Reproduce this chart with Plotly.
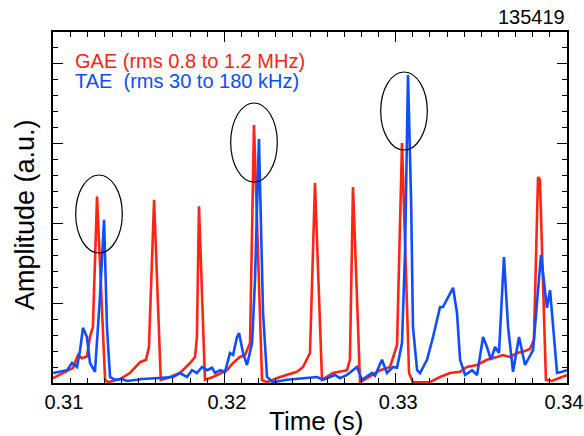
import plotly.graph_objects as go

# ---- data ----
gae_time = [0.31000, 0.31117, 0.31146, 0.31169, 0.31198, 0.31216, 0.31233, 0.31257, 0.31304, 0.31321,
            0.31391, 0.31449, 0.31508, 0.31543, 0.31560, 0.31590, 0.31629, 0.31665, 0.31741, 0.31800,
            0.31829, 0.31840, 0.31852, 0.31887, 0.31934, 0.32016, 0.32051, 0.32091, 0.32121, 0.32150,
            0.32173, 0.32220, 0.32249, 0.32325, 0.32424, 0.32459, 0.32500, 0.32529, 0.32570, 0.32634,
            0.32716, 0.32733, 0.32751, 0.32792, 0.32833, 0.32909, 0.32967, 0.32996, 0.33008, 0.33037,
            0.33078, 0.33101, 0.33200, 0.33259, 0.33317, 0.33376, 0.33416, 0.33475, 0.33533, 0.33591,
            0.33626, 0.33667, 0.33708, 0.33743, 0.33784, 0.33807, 0.33831, 0.33842, 0.33877, 0.33912,
            0.33959, 0.34000]
gae_amp = [0.06, 0.19, 0.35, 0.31, 0.33, 0.58, 0.70, 2.33, 0.04, 0.01,
           0.05, 0.125, 0.26, 0.29, 0.45, 2.29, 0.04, 0.06, 0.125, 0.25,
           0.325, 0.575, 2.21, 0.04, 0.075, 0.16, 0.25, 0.325, 0.35, 0.50,
           3.225, 0.04, 0.01, 0.075, 0.14, 0.20, 0.375, 2.50, 0.04, 0.125,
           0.16, 0.29, 2.45, 0.01, 0.06, 0.16, 0.20, 0.41, 0.475, 3.00,
           0.125, 0.01, 0.01, 0.075, 0.125, 0.14, 0.20, 0.225, 0.29, 0.325,
           0.35, 0.325, 0.375, 0.39, 0.425, 0.54, 2.575, 2.54, 0.04, 0.025,
           0.06, 0.10]

tae_time = [0.31000, 0.31041, 0.31082, 0.31111, 0.31140, 0.31158, 0.31175, 0.31198, 0.31216, 0.31245,
            0.31274, 0.31298, 0.31315, 0.31333, 0.31362, 0.31403, 0.31432, 0.31490, 0.31519, 0.31595,
            0.31700, 0.31741, 0.31782, 0.31811, 0.31840, 0.31870, 0.31899, 0.31928, 0.31946, 0.31975,
            0.32004, 0.32033, 0.32051, 0.32074, 0.32086, 0.32109, 0.32132, 0.32162, 0.32179, 0.32202,
            0.32226, 0.32249, 0.32284, 0.32366, 0.32424, 0.32500, 0.32541, 0.32576, 0.32617, 0.32646,
            0.32675, 0.32716, 0.32774, 0.32803, 0.32862, 0.32879, 0.32920, 0.32949, 0.32984, 0.33008,
            0.33037, 0.33055, 0.33072, 0.33090, 0.33101, 0.33125, 0.33142, 0.33183, 0.33218, 0.33259,
            0.33276, 0.33305, 0.33335, 0.33358, 0.33376, 0.33405, 0.33446, 0.33475, 0.33510, 0.33533,
            0.33556, 0.33580, 0.33603, 0.33632, 0.33656, 0.33685, 0.33720, 0.33755, 0.33802, 0.33848,
            0.33883, 0.33901, 0.33918, 0.33942, 0.33971, 0.34000]
tae_amp = [0.125, 0.14, 0.16, 0.25, 0.20, 0.41, 0.69, 0.575, 0.25, 0.14,
           1.075, 2.04, 0.70, 0.075, 0.04, 0.05, 0.025, 0.04, 0.05, 0.06,
           0.075, 0.125, 0.075, 0.16, 0.125, 0.20, 0.16, 0.19, 0.125, 0.16,
           0.14, 0.375, 0.35, 0.575, 0.625, 0.375, 0.225, 0.50, 1.29, 3.05,
           0.875, 0.075, 0.01, 0.04, 0.05, 0.06, 0.075, 0.04, 0.075, 0.10,
           0.06, 0.10, 0.20, 0.04, 0.125, 0.09, 0.29, 0.125, 0.20, 0.19,
           0.50, 1.66, 3.85, 2.29, 0.70, 0.16, 0.125, 0.29, 0.575, 0.95,
           0.95, 1.06, 1.19, 0.875, 0.29, 0.10, 0.16, 0.10, 0.575, 0.45,
           0.29, 0.45, 0.375, 1.575, 0.70, 0.14, 0.575, 0.225, 0.41, 1.60,
           0.94, 1.16, 0.70, 0.125, 0.14, 0.16]

x_ticks = [0.31, 0.32, 0.33, 0.34]
x_tick_labels = ["0.31", "0.32", "0.33", "0.34"]

gae_label = "GAE (rms 0.8 to 1.2 MHz)"
tae_label = "TAE  (rms 30 to 180 kHz)"
shot_label = "135419"

RED = "#ff2414"
BLUE = "#0f4dff"
FONT = "Liberation Sans, Arial, Helvetica, sans-serif"
NB = "\u00a0"

# tick labels nudged as in the reference (leading non-breaking spaces push them right)
label_pad = [5, 2, 2, 0]
tick_text_padded = [NB * n + t for n, t in zip(label_pad, x_tick_labels)]

fig = go.Figure()
fig.add_trace(go.Scatter(x=gae_time, y=gae_amp, mode="lines",
                         line=dict(color=RED, width=2.6), showlegend=False))
fig.add_trace(go.Scatter(x=tae_time, y=tae_amp, mode="lines",
                         line=dict(color=BLUE, width=2.6), showlegend=False))

# ellipses highlighting GAE/TAE pairs
for (x0, x1, y0, y1) in [(0.311325, 0.314045, 1.625, 2.60),
                         (0.320372, 0.323090, 2.5125, 3.50),
                         (0.329127, 0.331847, 2.9125, 3.8875)]:
    fig.add_shape(type="circle", xref="x", yref="y", x0=x0, x1=x1, y0=y0, y1=y1,
                  line=dict(color="black", width=1.2))

axis_common = dict(showgrid=False, zeroline=False, showline=True, linecolor="black",
                   linewidth=1.5, mirror="allticks", ticks="inside", tickcolor="black",
                   tickwidth=1.2, automargin=False)

fig.update_xaxes(range=[0.31, 0.34], tickvals=x_ticks, ticktext=tick_text_padded,
                 ticklen=10, ticklabelshift=-3, ticklabeloverflow="allow",
                 tickfont=dict(size=20, color="black", family=FONT),
                 minor=dict(dtick=0.001, tick0=0.31, ticks="inside", ticklen=5,
                            tickcolor="black", tickwidth=1.2, showgrid=False),
                 **axis_common)
fig.update_yaxes(range=[0, 4.3875], tick0=0, dtick=1, ticklen=10, showticklabels=False,
                 minor=dict(dtick=0.2, tick0=0, ticks="inside", ticklen=5,
                            tickcolor="black", tickwidth=1.2, showgrid=False),
                 **axis_common)

annotations = [
    dict(text=gae_label, x=(73 - 53) / 514, y=(383 - 61) / 351, xanchor="left", yanchor="middle",
         font=dict(size=20, color=RED, family=FONT)),
    dict(text=tae_label, x=(73 - 53) / 514, y=(383 - 81) / 351, xanchor="left", yanchor="middle",
         font=dict(size=20, color=BLUE, family=FONT)),
    dict(text=shot_label, x=(567 - 53) / 514, y=(383 - 17) / 351, xanchor="right", yanchor="middle",
         font=dict(size=20, color="black", family=FONT)),
    dict(text="Time (s)", x=(316 - 53) / 514, y=(383 - 421) / 351, xanchor="center", yanchor="middle",
         font=dict(size=26, color="black", family=FONT)),
    dict(text="Amplitude (a.u.)", x=(25 - 53) / 514, y=(383 - 215) / 351, xanchor="center",
         yanchor="middle", textangle=-90, font=dict(size=27, color="black", family=FONT)),
]
for a in annotations:
    a.update(xref="paper", yref="paper", showarrow=False)

fig.update_layout(width=584, height=436, margin=dict(l=53, r=17, t=32, b=53, autoexpand=False),
                  paper_bgcolor="white", plot_bgcolor="white",
                  font=dict(family=FONT, color="black"),
                  annotations=annotations, showlegend=False)

fig.write_html("out.html")
